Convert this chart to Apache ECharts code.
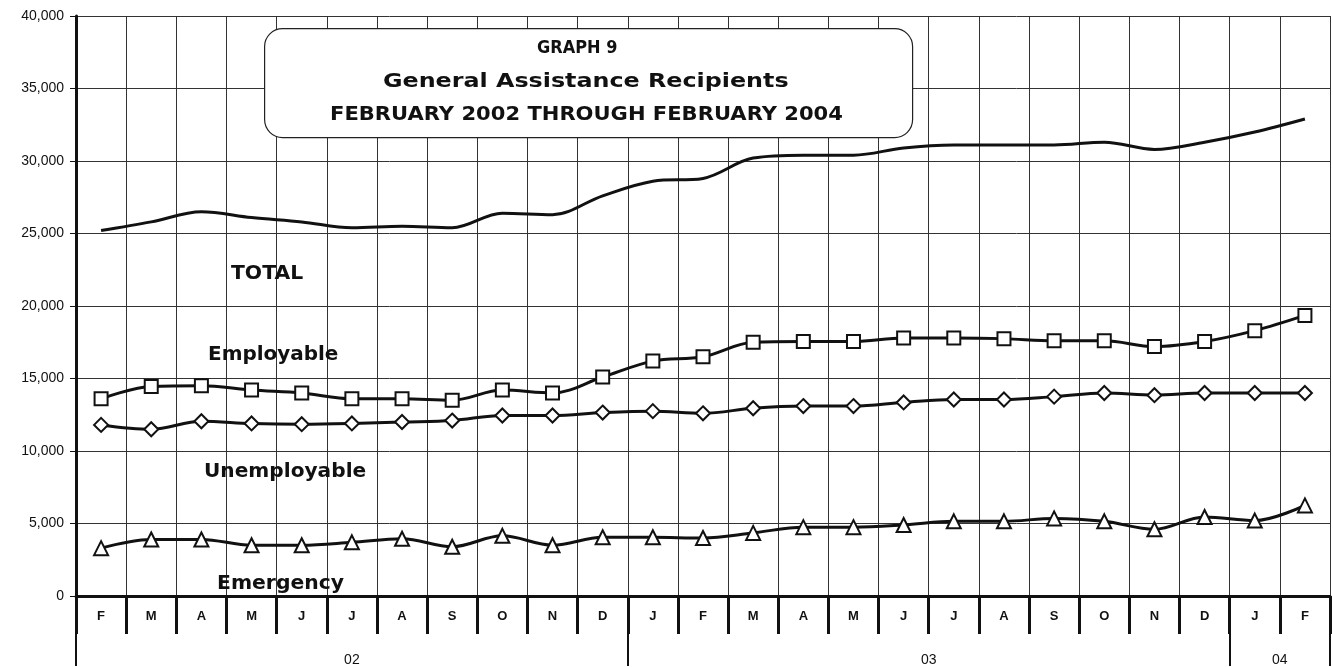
<!DOCTYPE html>
<html>
<head>
<meta charset="utf-8">
<script src="https://cdn.jsdelivr.net/npm/echarts@6/dist/echarts.min.js"></script>
<style>
html,body{margin:0;padding:0;background:#fff;}
#chart{width:1333px;height:667px;}
</style>
</head>
<body>
<div id="chart"></div>
<script>
const months = ['F','M','A','M','J','J','A','S','O','N','D','J','F','M','A','M','J','J','A','S','O','N','D','J','F'];
const yearLabels = {5.5:'02', 17:'03', 24:'04'};
const yearStartIdx = [0, 11, 23];

const total = [25200,25800,26500,26100,25800,25400,25500,25400,26400,26300,27600,28600,28800,30200,30400,30400,30900,31100,31100,31100,31300,30800,31300,32000,32900];
const employable = [13600,14450,14500,14200,14000,13600,13600,13500,14200,14000,15100,16200,16500,17500,17550,17550,17800,17800,17750,17600,17600,17200,17550,18300,19350];
const unemployable = [11800,11500,12050,11900,11850,11900,12000,12100,12450,12450,12650,12750,12600,12950,13100,13100,13350,13550,13550,13750,14000,13850,14000,14000,14000];
const emergency = [3300,3900,3900,3500,3500,3700,3950,3400,4150,3500,4050,4050,4000,4350,4750,4750,4900,5150,5150,5350,5150,4600,5450,5200,6250];

const chart = echarts.init(document.getElementById('chart'), null, {renderer:'canvas'});
const lineCommon = {
  type:'line', smooth:0.35, xAxisIndex:0, yAxisIndex:0,
  lineStyle:{color:'#111', width:3},
  itemStyle:{color:'#111', borderColor:'#111', borderWidth:1.5},
  emphasis:{disabled:true}, animation:false
};
const labelStyle = {fill:'#111', font:'bold 19px "DejaVu Sans"', textVerticalAlign:'middle'};

chart.setOption({
  animation:false,
  backgroundColor:'#fff',
  grid:{left:76, right:3, top:16, bottom:70, containLabel:false},
  xAxis:[
    {type:'category', data:months, position:'bottom', boundaryGap:true,
     axisLine:{show:true, lineStyle:{color:'#111', width:3}},
     axisTick:{show:true, interval:0, length:38, lineStyle:{color:'#111', width:3}},
     axisLabel:{interval:0, margin:14, color:'#111', fontFamily:'Liberation Sans', fontWeight:'bold', fontSize:13},
     splitLine:{show:true, interval:0, lineStyle:{color:'#333', width:1}}},
    {type:'category', data:months, position:'bottom', boundaryGap:true,
     axisLine:{show:false},
     axisTick:{show:true, interval:function(idx){return yearStartIdx.indexOf(idx) >= 0;}, length:70, lineStyle:{color:'#111', width:2}},
     axisLabel:{show:false}, splitLine:{show:false}},
    {type:'value', min:0, max:25, interval:0.5, position:'bottom',
     axisLine:{show:false}, axisTick:{show:false}, splitLine:{show:false},
     axisLabel:{margin:57, color:'#111', fontFamily:'Liberation Sans', fontSize:14,
       showMinLabel:true, showMaxLabel:true,
       formatter:function(v){return yearLabels[v] || '';}}}
  ],
  yAxis:{type:'value', min:0, max:40000, interval:5000,
    axisLine:{show:true, lineStyle:{color:'#111', width:3}},
    axisTick:{show:true, length:6, lineStyle:{color:'#111', width:1}},
    axisLabel:{margin:12, color:'#111', fontFamily:'Liberation Sans', fontSize:14},
    splitLine:{show:true, lineStyle:{color:'#333', width:1}}},
  series:[
    Object.assign({}, lineCommon, {name:'TOTAL', data:total, showSymbol:false, symbol:'none'}),
    Object.assign({}, lineCommon, {name:'Employable', data:employable, symbol:'emptyRect', symbolSize:13}),
    Object.assign({}, lineCommon, {name:'Unemployable', data:unemployable, symbol:'emptyDiamond', symbolSize:14}),
    Object.assign({}, lineCommon, {name:'Emergency', data:emergency, symbol:'emptyTriangle', symbolSize:14})
  ],
  graphic:[
    {type:'rect', left:264, top:28, z:100,
     shape:{width:648, height:109, r:18},
     style:{fill:'#fff', stroke:'#222', lineWidth:1.2}},
    {type:'text', z:101, x:537, y:40, scaleX:0.95,
     style:{text:'GRAPH 9', fill:'#111', font:'bold 17px "DejaVu Sans"'}},
    {type:'text', z:101, x:383, y:72, scaleX:1.19,
     style:{text:'General Assistance Recipients', fill:'#111', font:'bold 20px "DejaVu Sans"'}},
    {type:'text', z:101, x:330, y:105, scaleX:1.053,
     style:{text:'FEBRUARY 2002 THROUGH FEBRUARY 2004', fill:'#111', font:'bold 20px "DejaVu Sans"'}},
    {type:'text', z:101, x:231, y:274, scaleX:1.07, style:Object.assign({text:'TOTAL'}, labelStyle)},
    {type:'text', z:101, x:208, y:355, scaleX:1.05, style:Object.assign({text:'Employable'}, labelStyle)},
    {type:'text', z:101, x:204, y:472, scaleX:1.06, style:Object.assign({text:'Unemployable'}, labelStyle)},
    {type:'text', z:101, x:217, y:584, scaleX:1.07, style:Object.assign({text:'Emergency'}, labelStyle)}
  ]
});
</script>
</body>
</html>
